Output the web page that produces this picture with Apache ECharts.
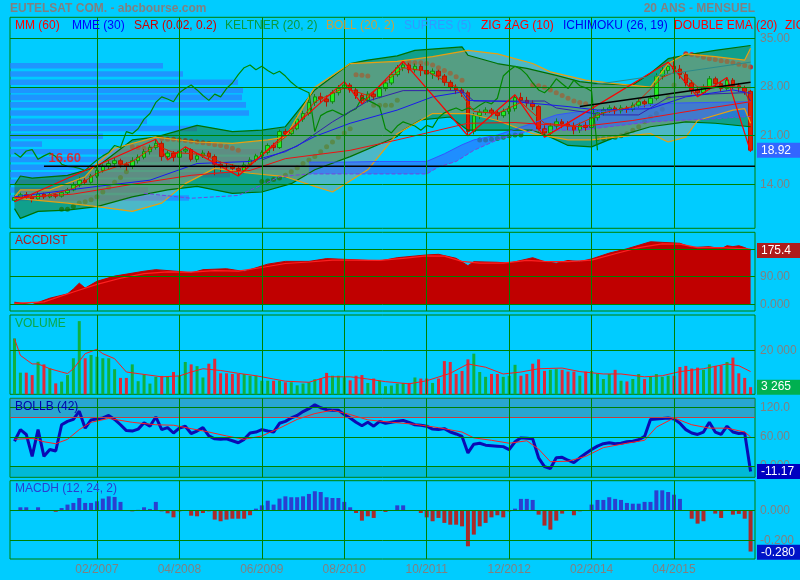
<!DOCTYPE html>
<html><head><meta charset="utf-8">
<script src="https://cdn.jsdelivr.net/npm/echarts@6/dist/echarts.min.js"></script>
<style>html,body{margin:0;padding:0;background:#00ccff;}#c{width:800px;height:580px;}</style>
</head><body><div id="c"></div><script>
// ---------- DATA ----------
const months = [];
for (let k = 0; k < 126; k++) { const m = (11 + k) % 12; const y = 2005 + Math.floor((11 + k) / 12); months.push(String(m + 1).padStart(2, '0') + '/' + y); }
const tickIdx = [14, 28, 42, 56, 70, 84, 98, 112];
const tickLabels = ['02/2007', '04/2008', '06/2009', '08/2010', '10/2011', '12/2012', '02/2014', '04/2015'];

const open = [11.7,12.1,12.5,12.2,11.9,12.6,12.2,12.5,12.3,12.8, 13.2,13.9,14.6,14.3,15.2,16.0,16.6,17.0,17.4,16.9, 16.6,17.4,17.9,18.7,19.3,19.9,18.0,18.5,17.9,18.8, 19.0,17.6,18.1,18.5,18.0,16.9,16.6,16.5,16.3,16.0, 16.8,17.5,18.1,18.6,19.6,19.3,21.6,21.3,22.0,23.4, 24.2,25.8,26.6,26.3,25.9,27.2,27.8,28.3,27.6,26.8, 26.1,27.0,26.6,27.8,28.6,29.8,30.8,31.2,30.5,31.0, 30.4,29.9,30.3,29.6,28.7,28.0,27.6,27.2,21.6,23.9, 24.4,24.7,24.3,23.9,24.5,24.9,26.5,26.1,25.7,25.2, 22.0,21.4,22.4,23.0,22.7,22.4,21.8,22.5,22.2,23.6, 24.3,24.7,25.0,24.6,25.0,24.8,25.4,25.9,25.6,26.4, 29.6,30.4,31.0,30.6,29.8,28.6,27.6,27.2,28.0,29.2, 28.5,27.8,29.0,28.2,27.9,27.4];
const close = [12.1,12.5,12.2,11.9,12.6,12.2,12.5,12.3,12.8,13.2, 13.9,14.6,14.3,15.2,16.0,16.6,17.0,17.4,16.9,16.6, 17.4,17.9,18.7,19.3,19.9,18.0,18.5,17.9,18.8,19.0, 17.6,18.1,18.5,18.0,16.9,16.6,16.5,16.3,16.0,16.8, 17.5,18.1,18.6,19.6,19.3,21.6,21.3,22.0,23.4,24.2, 25.8,26.6,26.3,25.9,27.2,27.8,28.3,27.6,26.8,26.1, 27.0,26.6,27.8,28.6,29.8,30.8,31.2,30.5,31.0,30.4, 29.9,30.3,29.6,28.7,28.0,27.6,27.2,21.6,23.9,24.4, 24.7,24.3,23.9,24.5,24.9,26.5,26.1,25.7,25.2,22.0, 21.4,22.4,23.0,22.7,22.4,21.8,22.5,22.2,23.6,24.3, 24.7,25.0,24.6,25.0,24.8,25.4,25.9,25.6,26.4,29.6, 30.4,31.0,30.6,29.8,28.6,27.6,27.2,28.0,29.2,28.5, 27.8,29.0,28.2,27.9,27.4,18.92];
const low = [11.5,11.9,11.9,11.4,11.7,11.9,12.0,12.0,12.1,12.6, 13.0,13.6,13.9,14.1,14.9,15.7,16.2,16.6,16.4,16.0, 16.2,17.0,17.6,18.3,19.0,17.4,17.5,17.3,17.6,18.5, 17.3,17.2,17.8,17.5,15.3,15.8,16.0,15.7,15.2,15.6, 16.5,17.2,17.7,18.3,18.8,19.1,20.8,21.0,21.8,23.0, 23.9,25.3,25.7,25.2,25.6,26.8,27.4,27.2,26.3,25.6, 25.8,26.1,26.4,27.4,28.3,29.5,30.3,30.0,30.1,29.6, 29.0,29.2,29.0,28.2,27.5,27.0,26.6,21.0,21.2,23.4, 24.0,23.8,23.3,23.6,24.1,24.5,25.6,25.2,24.7,21.6, 20.8,21.0,22.0,22.1,21.8,21.2,21.4,21.7,21.9,23.2, 23.9,24.3,24.1,24.2,24.3,24.5,25.0,25.1,25.3,26.1, 29.1,29.9,29.9,29.2,28.1,27.0,26.6,26.9,27.6,28.0, 27.3,27.5,27.7,27.3,26.9,18.7];
const high = [12.4,12.8,12.9,12.5,13.0,12.8,12.9,12.7,13.0,13.5, 14.3,15.1,14.9,15.5,16.4,16.9,17.5,17.9,17.7,17.2, 17.9,18.3,19.1,19.7,20.5,20.2,18.9,18.8,19.1,19.4, 19.2,18.5,18.9,18.8,18.3,17.3,17.1,16.9,16.7,17.2, 17.9,18.4,18.9,19.9,20.0,21.9,22.0,22.5,23.8,24.6, 26.2,27.0,27.2,26.8,27.6,28.3,28.8,28.6,27.9,27.1, 27.4,27.4,28.2,29.1,30.2,31.2,31.7,31.5,31.4,31.3, 30.8,30.7,30.5,29.9,29.0,28.4,28.0,27.5,24.3,24.8, 25.1,25.0,24.6,24.9,25.3,26.9,27.2,26.6,26.1,25.4, 22.5,22.8,23.5,23.4,23.1,22.9,22.9,23.0,24.0,24.7, 25.1,25.4,25.3,25.4,25.3,25.8,26.3,26.2,26.8,30.0, 30.9,31.6,32.4,31.2,30.2,29.0,28.1,28.4,29.6,29.5, 28.9,29.4,29.3,28.6,28.2,27.6];

const volume = [25600,9900,9900,8800,14900,13700,11900,5000,5800,8800, 16500,33500,16500,18000,17200,16500,16500,11500,7500,7500, 13700,6000,9100,4900,8000,8400,8000,10200,8500,14800, 13700,12900,7700,14000,16300,9600,9600,9300,9300,9300, 8500,8500,6200,6200,6200,6200,5500,5500,4100,4900, 5500,6900,7200,9800,8500,8500,7800,6400,8500,8800, 5200,7200,6200,3700,4000,4900,5200,5200,7700,7200, 7200,5200,7200,15200,14800,9300,10700,16000,18600,10200, 8000,9300,9300,8000,8500,13500,8500,9300,14000,16000, 10700,11200,11500,11200,10400,10400,8500,10400,10700,9300, 7000,9300,11200,6200,5900,7000,9300,7000,8000,9300, 8000,8500,8500,12500,13000,11800,12200,11200,13700,13000, 13200,14800,16800,9600,7500,3265];
const volumeMA = [[0,25400],[1,17800],[3,13900],[4,13900],[6,11700],[8,10200],[9,9500],[10,11700],[12,18600],[14,20600],[15,18600],[17,16300],[19,10200],[22,9100],[25,8000],[28,8400],[30,10200],[32,11700],[35,10900],[38,9600],[41,8500],[44,7000],[46,6000],[50,5500],[53,8000],[57,8000],[60,7000],[63,5800],[67,4800],[70,6200],[74,9600],[77,13900],[80,12400],[83,9300],[86,10200],[89,11700],[93,12000],[96,10400],[100,9300],[103,9300],[107,8000],[110,8500],[113,10400],[117,11700],[121,13900],[123,13100],[125,10400]];

const accdist = [[0,7],[3,-1],[6,20],[9,34],[10,50],[11,69],[12,53],[14,75],[17,92],[22,108],[24,113],[28,107],[30,102],[32,113],[36,116],[39,107],[43,131],[46,140],[50,140],[53,149],[58,145],[62,141],[65,152],[70,161],[72,163],[75,150],[77,126],[78,139],[82,137],[84,134],[88,152],[90,139],[92,134],[94,143],[96,139],[98,148],[101,167],[104,181],[108,204],[110,202],[113,199],[115,185],[118,188],[120,181],[121,191],[122,188],[123,191],[124,185],[125,176]];
const accdistMA = [[0,3],[5,8],[10,40],[14,65],[18,85],[22,100],[26,106],[30,105],[34,110],[38,108],[42,120],[46,133],[50,138],[54,144],[58,144],[62,143],[66,150],[70,158],[73,157],[76,140],[79,134],[83,134],[87,143],[90,140],[94,139],[98,144],[102,165],[106,185],[110,197],[113,196],[116,185],[120,185],[125,180]];

const bollb = [51,75,65,20,75,20,34,31,85,92, 96,113,78,95,97,99,104,96,85,73, 72,76,89,82,101,75,79,68,78,82, 67,72,79,62,56,55,56,52,48,55, 68,70,75,72,70,88,92,99,104,112, 118,126,120,116,115,115,106,99,90,83, 90,82,92,88,90,92,94,90,85,84, 82,76,75,77,70,66,61,27,45,47, 43,42,41,40,34,50,58,57,56,17, -1,-5,17,18,12,7,17,26,34,41, 46,48,46,47,50,51,54,61,96,97, 98,99,97,88,75,68,65,70,90,70, 65,82,70,67,68,-11.17];
const bollbMA = [[0,55],[3,57],[5,50],[7,46],[9,55],[11,75],[13,90],[16,98],[20,90],[24,85],[27,84],[30,77],[33,70],[36,62],[39,55],[42,62],[45,78],[48,96],[51,108],[54,115],[57,106],[60,95],[64,90],[68,86],[72,79],[76,70],[78,58],[81,53],[84,47],[87,52],[89,35],[91,9],[94,10],[97,20],[100,38],[104,47],[107,53],[109,80],[112,99],[115,85],[118,78],[121,78],[124,70],[125,60]];

const macdh = [0,0.02,0.02,0,0.02,-0.003,-0.003,-0.01,0.015,0.038, 0.049,0.082,0.049,0.049,0.06,0.078,0.093,0.089,0.056,0, -0.007,0.003,0.02,0.009,0.056,-0.007,-0.02,-0.047,-0.007,0, -0.036,-0.04,-0.018,-0.007,-0.062,-0.073,-0.062,-0.056,-0.056,-0.056, -0.033,0.011,0.033,0.064,0.038,0.078,0.093,0.087,0.087,0.093, 0.109,0.127,0.122,0.087,0.082,0.082,0.056,0.02,-0.018,-0.069, -0.04,-0.051,0,-0.011,0,0.033,0.033,0.002,0,-0.018, -0.047,-0.073,-0.051,-0.084,-0.096,-0.096,-0.107,-0.24,-0.162,-0.107, -0.084,-0.047,-0.033,-0.047,-0.007,0.011,0.076,0.076,0.069,-0.029, -0.102,-0.129,-0.069,-0.022,0,-0.033,-0.007,0,0.038,0.069, 0.069,0.087,0.076,0.069,0.049,0.044,0.044,0.056,0.056,0.133, 0.133,0.122,0.104,0.076,0,-0.056,-0.089,-0.073,0,-0.022, -0.051,0,-0.029,-0.024,-0.056,-0.275];

const keltUpper = [[0,13.9],[1,15.2],[3,14.9],[9,15.3],[14,16.5],[20,20.4],[24,20.8],[31,22.5],[37,21.6],[42,21.8],[46,22.3],[51,27.6],[57,31.4],[60,31.9],[65,32.5],[68,33.3],[76,33.8],[77,32.6],[82,31.4],[87,30.7],[92,29.7],[96,28.8],[99,28.5],[105,28.3],[108,30.0],[111,32.1],[114,32.6],[119,33.3],[125,34.0]];
const keltLower = [[0,10.5],[1,9.1],[4,10.1],[9,10.3],[14,10.8],[20,12.2],[26,13.2],[31,13.7],[37,12.7],[42,12.9],[47,14.1],[51,16.1],[57,18.0],[65,20.9],[66,21.8],[69,23.3],[74,23.7],[77,21.8],[82,21.8],[88,21.8],[91,20.8],[94,19.6],[98,19.4],[102,20.8],[108,22.3],[114,23.0],[119,22.8],[125,22.3]];
const bollUpper = [[0,12.2],[1,13.2],[6,13.2],[12,15.1],[14,17.0],[17,19.2],[24,20.8],[31,20.1],[37,19.9],[43,20.4],[46,20.8],[51,28.0],[57,31.4],[65,31.7],[71,32.4],[77,33.3],[82,32.8],[88,31.4],[91,30.2],[97,29.0],[102,28.5],[108,28.0],[111,31.4],[114,32.8],[119,32.4],[124,31.9],[125,33.6]];
const bollLower = [[0,12.0],[4,11.7],[9,11.3],[14,10.8],[20,10.1],[25,11.3],[29,14.1],[34,16.3],[40,15.6],[46,15.1],[51,13.7],[54,12.9],[60,16.1],[65,21.3],[71,24.2],[77,24.2],[82,23.2],[88,21.3],[94,20.4],[98,20.4],[102,20.8],[108,21.3],[111,20.1],[114,20.8],[116,23.2],[122,24.7],[124,24.9],[125,22.8]];
const senkouA = [[50,17.2],[56,17.2],[62,17.3],[70,17.3],[73,18.4],[76,19.7],[78,20.4],[82,21.1],[88,22.8],[92,24.0],[96,24.5],[100,24.5],[104,24.8],[108,25.5],[112,25.7],[118,25.8],[125,25.9]];
const senkouB = [[22,12.7],[30,12.0],[38,12.4],[42,13.9],[45,15.1],[50,15.5],[56,15.5],[62,15.5],[70,15.5],[72,16.5],[75,17.3],[78,18.9],[82,20.4],[84,20.9],[88,21.8],[96,21.8],[100,22.2],[104,22.6],[108,23.0],[112,23.2],[118,23.4],[125,23.8]];
const kijun = [[42,17.5],[48,19.5],[54,23.0],[60,26.0],[66,27.5],[76,27.5],[78,26.0],[90,26.0],[92,25.0],[100,24.0],[106,24.0],[108,25.0],[111,26.5],[118,27.0],[124,27.2],[125,26.0]];
const mme30 = [[0,12.2],[14,13.7],[23,14.6],[31,17.0],[40,17.3],[46,18.7],[51,20.9],[57,22.8],[65,24.7],[71,26.6],[76,27.3],[77,26.1],[85,25.9],[94,25.2],[99,24.7],[108,24.9],[114,26.6],[122,27.6],[125,27.1]];
const mm60 = [[0,12.0],[10,12.6],[20,14.0],[30,15.3],[40,16.0],[46,17.7],[57,18.9],[65,20.4],[77,22.8],[85,22.9],[96,22.3],[105,23.2],[115,24.6],[125,25.9]];
const dema = [[0,12.1],[5,12.3],[10,13.4],[14,15.6],[20,17.3],[24,19.6],[27,18.6],[32,18.3],[35,17.2],[39,16.4],[43,18.8],[47,21.5],[51,25.9],[56,27.9],[60,26.8],[66,30.8],[70,30.3],[75,28.0],[78,24.5],[82,24.2],[86,25.8],[90,22.8],[95,22.4],[100,24.3],[105,25.2],[110,29.4],[113,30.5],[116,28.0],[120,28.2],[124,27.9],[125,25.0]];
const zigzag = [[0,11.5],[24,20.5],[26,17.5],[29,19.4],[38,15.2],[56,28.8],[59,25.6],[66,31.7],[77,21.0],[85,26.9],[90,20.8],[111,31.6],[116,26.6],[121,29.4],[125,18.7]];
const sarBelow = [[8,10.4],[9,10.4],[10,10.8],[11,11.3],[12,11.5],[13,11.8],[14,12.2],[15,12.9],[16,13.6],[17,14.3],[18,15.0],[19,15.8],[42,14.4],[43,14.5],[44,14.7],[45,14.9],[46,15.3],[47,15.8],[48,16.4],[49,17.0],[50,17.5],[51,18.0],[52,18.7],[53,19.4],[54,20.1],[55,20.8],[56,21.4],[57,22.0],[61,25.4],[62,25.4],[63,25.4],[64,25.4],[65,26.1],[79,20.4],[80,20.4],[81,20.5],[82,20.6],[83,20.8],[84,21.0],[85,21.1],[86,21.1],[99,20.6],[100,20.6],[101,20.7],[102,20.8],[103,21.0],[104,21.3],[105,21.8],[106,22.3],[107,23.0],[108,23.7],[109,24.2],[110,24.8],[111,26.5],[112,28.3]];
const sarAbove = [[20,19.4],[21,19.3],[22,19.2],[23,19.2],[25,20.6],[26,20.5],[27,20.5],[28,20.4],[29,20.3],[30,20.2],[31,20.1],[32,20.0],[33,19.9],[34,19.7],[35,19.6],[36,19.4],[37,19.2],[38,18.9],[58,29.8],[59,29.7],[60,29.6],[66,31.6],[67,31.6],[68,31.5],[69,31.5],[70,31.4],[71,31.2],[72,30.8],[73,30.4],[74,30.0],[75,29.5],[76,29.0],[88,28.3],[89,28.2],[90,28.0],[91,27.6],[92,27.2],[93,26.8],[94,26.4],[95,26.0],[96,25.8],[97,25.6],[114,32.8],[115,32.7],[116,32.6],[117,32.3],[118,32.1],[119,32.0],[120,31.8],[121,31.7],[122,31.5],[123,31.3],[124,31.1],[125,30.9]];
const trendBlack = [[96,25.2],[125,28.7]];
const trendTeal = [[98,28.3],[125,31.6]];
const support = [[5,16.6],[125.75,16.6]];
const profilePrice = [31.09,29.89,28.71,27.53,26.53,25.45,24.27,23.08,22.04,20.92,19.80,18.69,17.59,16.46,15.38,14.30,13.18,12.04];
const profileVol = [153,173,228,233,232,236,239,137,187,93,32,250,240,290,220,160,138,179];

// ---------- LAYOUT HELPERS ----------
const GREEN = '#008000';
const FONT = 'Liberation Sans, Arial, sans-serif';
const LBL = { color: '#808080', fontSize: 12, fontFamily: FONT };
const XMIN = -0.764, XMAX = 125.75;

function gridMark(hLines, tag, withXLabels) {
  const data = hLines.map(h => ({
    yAxis: h.v,
    lineStyle: { color: h.c || GREEN, width: 1, type: 'solid' },
    label: h.t ? Object.assign({ show: true, formatter: h.t, position: 'end', distance: 5 }, LBL) : { show: false }
  }));
  tickIdx.forEach((t, k) => data.push({
    xAxis: t, lineStyle: { color: GREEN, width: 1, type: 'solid' },
    label: withXLabels ? Object.assign({ show: true, formatter: tickLabels[k], position: 'start', distance: 5 }, LBL) : { show: false }
  }));
  if (tag) data.push({
    yAxis: tag.v, lineStyle: { color: 'rgba(0,0,0,0)', width: 1 },
    label: { show: true, formatter: tag.t, position: 'end', distance: 2, color: '#ffffff', backgroundColor: tag.bg,
      padding: [2, 4, 1, 4], width: 35, fontSize: 12, fontFamily: FONT }
  });
  return { silent: true, symbol: ['none', 'none'], animation: false, z: 5, data };
}
function poly(upper, lower, fill, z) {
  return { type: 'custom', xAxisIndex: 0, yAxisIndex: 0, z, silent: true, data: [[0, 20]],
    renderItem: (params, api) => {
      const pts = upper.map(p => api.coord(p)).concat(lower.slice().reverse().map(p => api.coord(p)));
      return { type: 'polygon', shape: { points: pts }, style: { fill } };
    } };
}
function ln(data, color, width, z, extra) {
  return Object.assign({ type: 'line', xAxisIndex: 0, yAxisIndex: 0, data, symbol: 'none', z, silent: true,
    lineStyle: { color, width }, clip: false }, extra || {});
}

const grids = [
  { left: 10, width: 745, top: 17.3, height: 211, show: true, borderColor: GREEN, borderWidth: 1 },
  { left: 14.5, width: 736.1, top: 17.3, height: 211, show: false },
  { left: 10, width: 745, top: 232.3, height: 78.7, show: true, borderColor: GREEN, borderWidth: 1 },
  { left: 10, width: 745, top: 315, height: 79.3, show: true, borderColor: GREEN, borderWidth: 1 },
  { left: 10, width: 745, top: 398.3, height: 79, show: true, borderColor: GREEN, borderWidth: 1 },
  { left: 10, width: 745, top: 480.7, height: 78.3, show: true, borderColor: GREEN, borderWidth: 1 }
];
const hidden = { axisLine: { show: false }, axisTick: { show: false }, axisLabel: { show: false }, splitLine: { show: false } };
const vx = g => Object.assign({ gridIndex: g, type: 'value', min: XMIN, max: XMAX }, hidden);
const xAxes = [vx(0), Object.assign({ gridIndex: 1, type: 'category', data: months, boundaryGap: false }, hidden), vx(2), vx(3), vx(4), vx(5),
  Object.assign({ gridIndex: 0, type: 'value', min: 0, max: 745 }, hidden)];
const vy = (g, mn, mx) => Object.assign({ gridIndex: g, type: 'value', min: mn, max: mx }, hidden);
const yAxes = [vy(0, 7.67, 38.06), vy(1, 7.67, 38.06), vy(2, -21.8, 234.8), vy(3, 0, 36300), vy(4, -23.1, 139.4), vy(5, -0.3247, 0.1973)];

const series = [];
// volume-at-price bars (SUPRES)
series.push({ type: 'custom', xAxisIndex: 6, yAxisIndex: 0, z: 1, silent: true,
  data: profilePrice.map((p, k) => [profileVol[k], p]),
  renderItem: (params, api) => {
    const p0 = api.coord([0, api.value(1)]), p1 = api.coord([api.value(0), api.value(1)]);
    const h = api.size([0, 0.8])[1];
    return { type: 'rect', shape: { x: p0[0], y: p0[1] - h / 2, width: p1[0] - p0[0], height: h }, style: { fill: 'rgba(43,126,255,0.7)' } };
  } });
// SAR
series.push({ type: 'scatter', xAxisIndex: 0, yAxisIndex: 0, data: sarBelow, symbolSize: 5, z: 1, silent: true, itemStyle: { color: '#147a14' } });
series.push({ type: 'scatter', xAxisIndex: 0, yAxisIndex: 0, data: sarAbove, symbolSize: 5, z: 1, silent: true, itemStyle: { color: '#e01010' } });
// fills
series.push(poly(keltUpper, keltLower, 'rgba(30,116,25,0.5)', 2));
series.push(poly(bollUpper, bollLower, 'rgba(190,154,117,0.4)', 2));
series.push(poly(senkouA, senkouB.filter(p => p[0] >= 50), 'rgba(51,100,255,0.6)', 2));
// candles
series.push({ type: 'candlestick', xAxisIndex: 1, yAxisIndex: 1, z: 3, clip: false, barWidth: 4, silent: true,
  data: months.map((_, k) => [open[k], close[k], low[k], high[k]]),
  itemStyle: { color: '#22ee22', color0: '#dd2200', borderColor: '#118811', borderColor0: '#b01800', borderWidth: 1 } });
// lines
series.push(ln(keltUpper, '#007000', 1.2, 4, { markLine: gridMark([{ v: 35, t: '35.00' }, { v: 28, t: '28.00' }, { v: 21, t: '21.00' }, { v: 14, t: '14.00' }], { v: 18.92, t: '18.92', bg: '#3366ff' }) }));
series.push(ln(keltLower, '#007000', 1.2, 4));
series.push(ln(bollUpper, '#e8a010', 1.2, 4));
series.push(ln(bollLower, '#e8a010', 1.2, 4));
series.push(ln(senkouA, '#3355ff', 1, 4));
series.push(ln(senkouB, '#7744dd', 1, 4, { lineStyle: { color: '#7744dd', width: 1, type: 'dashed' } }));
series.push(ln(close.slice(26).map((v, k) => [k, v]), '#008800', 1.2, 4));
series.push(ln(kijun, '#3322aa', 1, 4));
series.push(ln(mme30, '#1a1aee', 1, 4));
series.push(ln(mm60, '#ee1111', 1, 4));
series.push(ln(dema, '#dd2200', 1, 4));
series.push(ln(zigzag, '#ff0000', 1.2, 4));
series.push(ln(trendTeal, '#2a8a8a', 1, 4));
series.push(ln(trendBlack, '#000000', 1.5, 4));
series.push(ln(support, '#000000', 1.5, 4));
series.push({ type: 'scatter', xAxisIndex: 0, yAxisIndex: 0, z: 6, silent: true, symbolSize: 1, itemStyle: { color: 'rgba(0,0,0,0)' },
  data: [support[0]], label: { show: true, formatter: '16.60', position: [5, -14], color: '#ff1010', fontWeight: 'bold', fontSize: 13, fontFamily: FONT } });

// ACCDIST
series.push({ type: 'line', xAxisIndex: 2, yAxisIndex: 2, data: accdist, symbol: 'none', z: 2, silent: true, clip: false,
  lineStyle: { color: '#c00000', width: 1 }, areaStyle: { color: '#c00000', opacity: 1 },
  markLine: gridMark([{ v: 180 }, { v: 90, t: '90.00' }, { v: 0, t: '0.000' }], { v: 175.4, t: '175.4', bg: '#b01c1c' }) });
series.push({ type: 'line', xAxisIndex: 2, yAxisIndex: 2, data: accdistMA, symbol: 'none', z: 3, silent: true, lineStyle: { color: '#ff2020', width: 1.2 } });

// VOLUME
series.push({ type: 'bar', xAxisIndex: 3, yAxisIndex: 3, z: 2, silent: true, barWidth: 3, clip: false,
  data: volume.map((v, k) => ({ value: [k, v], itemStyle: { color: close[k] >= open[k] ? '#10b040' : '#e02a3a' } })),
  markLine: gridMark([{ v: 20000, t: '20 000' }], { v: 3265, t: '3 265', bg: '#00b050' }) });
series.push({ type: 'line', xAxisIndex: 3, yAxisIndex: 3, data: volumeMA, symbol: 'none', z: 3, silent: true, lineStyle: { color: '#ff1a1a', width: 1 } });

// BOLLB
series.push({ type: 'line', xAxisIndex: 4, yAxisIndex: 4, data: bollb.map((v, k) => [k, v]), symbol: 'none', z: 3, silent: true, clip: false,
  lineStyle: { color: '#0a0ab4', width: 3 },
  markArea: { silent: true, data: [[{ yAxis: 100, itemStyle: { color: 'rgba(100,110,140,0.4)' } }, { yAxis: 139.4 }], [{ yAxis: -23.1, itemStyle: { color: 'rgba(0,150,140,0.35)' } }, { yAxis: 0 }]] },
  markLine: gridMark([{ v: 120, t: '120.0' }, { v: 100, c: '#c04040' }, { v: 60, t: '60.00' }, { v: 0, t: '0.000' }], { v: -11.17, t: '-11.17', bg: '#0000c0' }) });
series.push({ type: 'line', xAxisIndex: 4, yAxisIndex: 4, data: bollbMA, symbol: 'none', z: 4, silent: true, lineStyle: { color: '#ff2020', width: 1 } });

// MACDH
series.push({ type: 'bar', xAxisIndex: 5, yAxisIndex: 5, z: 2, silent: true, barWidth: 4, clip: false,
  data: macdh.map((v, k) => ({ value: [k, v], itemStyle: { color: v >= 0 ? '#2a3fd0' : '#aa2a2a' } })),
  markLine: gridMark([{ v: 0, t: '0.000' }, { v: -0.2, t: '-0.200' }], { v: -0.28, t: '-0.280', bg: '#0014c8' }, true) });

// ---------- TEXT ----------
const txt = (text, x, y, fill, extra) => ({ type: 'text', x, y, z: 100, silent: true,
  style: Object.assign({ text, fill, font: '12px ' + FONT, align: 'left', verticalAlign: 'middle', textAlign: 'left', textVerticalAlign: 'middle' }, extra || {}) });
const legend = [['MM (60)', 15, '#ff0000'], ['MME (30)', 72, '#0000ff'], ['SAR (0.02, 0.2)', 134, '#d00000'], ['KELTNER (20, 2)', 225, '#0b9a3a'],
  ['BOLL (20, 2)', 326, '#c8a040'], ['SUPRES (5)', 404, '#3399ff'], ['ZIG ZAG (10)', 481, '#ff0000'], ['ICHIMOKU (26, 19)', 563, '#0000ee'],
  ['DOUBLE EMA (20)', 674, '#ff0000'], ['ZIG', 785, '#ff0000']];
const graphic = [
  txt('EUTELSAT COM. - abcbourse.com', 10, 8.5, '#808080', { font: 'bold 12px ' + FONT }),
  txt('20 ANS - MENSUEL', 755, 8.5, '#808080', { font: 'bold 12px ' + FONT, align: 'right', textAlign: 'right' }),
  txt('ACCDIST', 15, 241, '#b01c1c'),
  txt('VOLUME', 15, 324, '#0aa848'),
  txt('BOLLB (42)', 15, 407, '#0000aa'),
  txt('MACDH (12, 24, 2)', 15, 489, '#2a3fd0')
].concat(legend.map(l => txt(l[0], l[1], 25.5, l[2])));

const chart = echarts.init(document.getElementById('c'), null, { renderer: 'canvas', width: 800, height: 580 });
chart.setOption({ backgroundColor: '#00ccff', animation: false, grid: grids, xAxis: xAxes, yAxis: yAxes, series, graphic });
</script></body></html>
